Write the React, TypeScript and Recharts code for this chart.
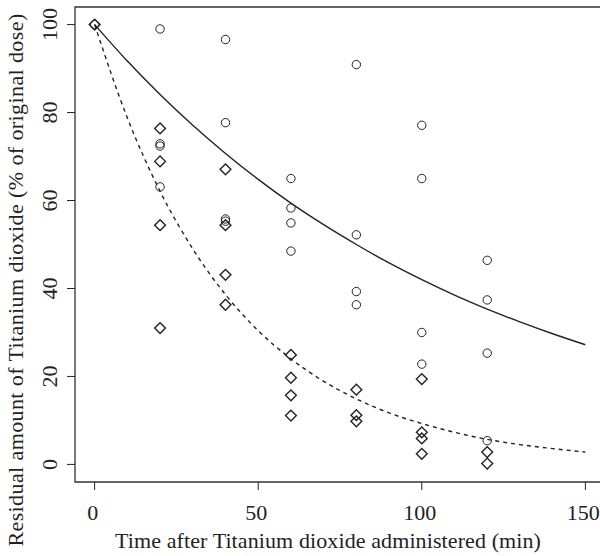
import { ComposedChart, Line, Scatter, XAxis, YAxis, ReferenceArea } from 'recharts'

// observed points, group with slow clearance (circles)
const circleTime = [0, 20, 20, 20, 20, 40, 40, 40, 40, 60, 60, 60, 60, 80, 80, 80, 80, 100, 100, 100, 100, 120, 120, 120, 120]
const circleValue = [100, 99.0, 72.9, 72.4, 63.1, 96.6, 77.7, 55.8, 55.3, 65.0, 58.3, 54.9, 48.5, 90.9, 52.2, 39.3, 36.3, 77.1, 65.0, 30.0, 22.8, 46.4, 37.4, 25.3, 5.4]

// observed points, group with fast clearance (diamonds)
const diamondTime = [0, 20, 20, 20, 20, 40, 40, 40, 40, 60, 60, 60, 60, 80, 80, 80, 100, 100, 100, 100, 120, 120]
const diamondValue = [100, 76.4, 68.9, 54.4, 31.0, 67.1, 54.4, 43.1, 36.3, 24.9, 19.7, 15.7, 11.1, 17.0, 11.2, 9.8, 19.4, 7.3, 5.9, 2.4, 2.8, 0.2]

// fitted curves
const curveTime = [0, 10, 20, 30, 40, 50, 60, 70, 80, 90, 100, 110, 120, 130, 140, 150]
const slowFit = [100, 91.7, 84.1, 77.1, 70.7, 64.8, 59.4, 54.5, 50.0, 45.8, 42.0, 38.5, 35.3, 32.4, 29.7, 27.2]
const fastFit = [100, 78.8, 62.1, 49.0, 38.6, 30.4, 24.0, 18.9, 14.9, 11.7, 9.3, 7.3, 5.7, 4.5, 3.6, 2.8]

const xTicks = [0, 50, 100, 150]
const yTicks = [0, 20, 40, 60, 80, 100]

const zip = (xs: number[], ys: number[]) => xs.map((x, i) => ({ x, y: ys[i] }))

const circles = zip(circleTime, circleValue)
const diamonds = zip(diamondTime, diamondValue)
const slowCurve = zip(curveTime, slowFit)
const fastCurve = zip(curveTime, fastFit)

const textStyle = { fontFamily: "'Liberation Serif', 'DejaVu Serif', serif", fontSize: 22 }
const INK = '#222'

const CircleMark = (props: any) => (
  <circle cx={props.cx} cy={props.cy} r={4.2} fill="none" stroke={INK} strokeWidth={1} />
)

const DiamondMark = (props: any) => {
  const { cx, cy } = props
  const d = 5.4
  return (
    <path
      d={`M${cx},${cy - d}L${cx + d},${cy}L${cx},${cy + d}L${cx - d},${cy}Z`}
      fill="none"
      stroke={INK}
      strokeWidth={1.4}
    />
  )
}

const XTick = (props: any) => (
  <text x={props.x - 2} y={props.y + 28} textAnchor="middle" style={textStyle} fill={INK}>
    {props.payload.value}
  </text>
)

const YTick = (props: any) => {
  const bx = 57
  return (
    <text
      x={bx}
      y={props.y}
      transform={`rotate(-90, ${bx}, ${props.y})`}
      textAnchor="middle"
      style={textStyle}
      fill={INK}
    >
      {props.payload.value}
    </text>
  )
}

const XTitle = () => (
  <text x={328} y={548} textAnchor="middle" style={{ ...textStyle, letterSpacing: 0.1 }} fill={INK}>
    Time after Titanium dioxide administered (min)
  </text>
)

const YTitle = () => (
  <text
    x={23}
    y={280}
    transform="rotate(-90, 23, 280)"
    textAnchor="middle"
    style={{ ...textStyle, letterSpacing: 0.4 }}
    fill={INK}
  >
    Residual amount of Titanium dioxide (% of original dose)
  </text>
)

export default function App() {
  return (
    <div style={{ position: 'absolute', left: 0, top: 0, width: 600, height: 556, overflow: 'hidden', background: '#fff' }}>
      <ComposedChart width={605} height={556} margin={{ top: 7, right: 0, bottom: 0, left: 0 }}>
        <XAxis
          type="number"
          dataKey="x"
          domain={[-6, 156]}
          ticks={xTicks}
          allowDataOverflow
          height={74}
          tickSize={8}
          tickMargin={2}
          axisLine={false}
          tickLine={{ stroke: INK }}
          tick={<XTick />}
          label={<XTitle />}
        />
        <YAxis
          type="number"
          dataKey="y"
          domain={[-4, 104]}
          ticks={yTicks}
          allowDataOverflow
          width={75}
          tickSize={8}
          tickMargin={2}
          axisLine={false}
          tickLine={{ stroke: INK }}
          tick={<YTick />}
          label={<YTitle />}
        />
        <ReferenceArea x1={-6} x2={156} y1={-4} y2={104} fill="none" stroke="#333" strokeWidth={1.3} fillOpacity={0} />
        <Line data={slowCurve} dataKey="y" type="monotone" stroke={INK} strokeWidth={1.4} dot={false} isAnimationActive={false} />
        <Line data={fastCurve} dataKey="y" type="monotone" stroke={INK} strokeWidth={1.4} strokeDasharray="4 4" dot={false} isAnimationActive={false} />
        <Scatter data={circles} dataKey="y" shape={<CircleMark />} isAnimationActive={false} />
        <Scatter data={diamonds} dataKey="y" shape={<DiamondMark />} isAnimationActive={false} />
      </ComposedChart>
    </div>
  )
}
